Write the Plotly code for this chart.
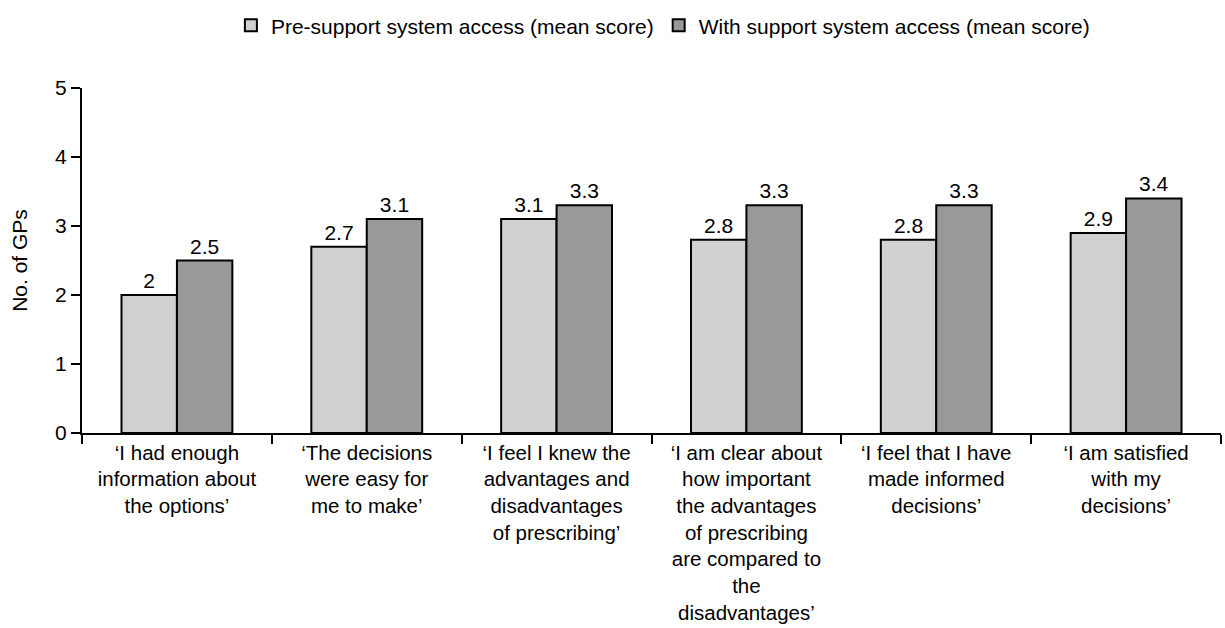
import plotly.graph_objects as go

categories = [
    "‘I had enough<br>information about<br>the options’",
    "‘The decisions<br>were easy for<br>me to make’",
    "‘I feel I knew the<br>advantages and<br>disadvantages<br>of prescribing’",
    "‘I am clear about<br>how important<br>the advantages<br>of prescribing<br>are compared to<br>the<br>disadvantages’",
    "‘I feel that I have<br>made informed<br>decisions’",
    "‘I am satisfied<br>with my<br>decisions’",
]
pre_support = [2, 2.7, 3.1, 2.8, 2.8, 2.9]
with_support = [2.5, 3.1, 3.3, 3.3, 3.3, 3.4]
series_names = ["Pre-support system access (mean score)", "With support system access (mean score)"]
y_ticks = [0, 1, 2, 3, 4, 5]

FONT = "Liberation Sans, Arial, Helvetica, sans-serif"
FS = 21

fig = go.Figure()
fig.add_trace(go.Bar(
    x=categories, y=pre_support, name=series_names[0],
    marker=dict(color="#d0d0d0", line=dict(color="black", width=2)),
    text=[f"{v:g}" for v in pre_support], textposition="outside",
    textfont=dict(size=FS, color="black", family=FONT), cliponaxis=False,
))
fig.add_trace(go.Bar(
    x=categories, y=with_support, name=series_names[1],
    marker=dict(color="#999999", line=dict(color="black", width=2)),
    text=[f"{v:g}" for v in with_support], textposition="outside",
    textfont=dict(size=FS, color="black", family=FONT), cliponaxis=False,
))

fig.update_layout(
    width=1225, height=628,
    margin=dict(l=82, r=4, t=88, b=195),
    paper_bgcolor="white", plot_bgcolor="white",
    font=dict(family=FONT, size=FS, color="black"),
    barmode="group", bargap=0.416, bargroupgap=0,
    showlegend=True,
    legend=dict(orientation="h", x=0.51, xanchor="center", y=1.24, yanchor="top",
                font=dict(size=FS, family=FONT, color="black"),
                itemwidth=30, traceorder="normal", tracegroupgap=0),
    xaxis=dict(showline=True, linecolor="black", linewidth=2, automargin=False,
               ticks="outside", tickson="boundaries", ticklen=9, tickwidth=2, tickcolor="black",
               showgrid=False, tickfont=dict(size=20.5, family=FONT, color="black")),
    yaxis=dict(range=[0, 5], tickvals=y_ticks, showline=True, linecolor="black", linewidth=2,
               automargin=False,
               ticks="outside", ticklen=9, tickwidth=2, tickcolor="black",
               showgrid=False, zeroline=False,
               title=dict(text="No. of GPs", font=dict(size=FS, family=FONT, color="black"), standoff=22),
               tickfont=dict(size=FS, family=FONT, color="black")),
)

fig.write_html("out.html")
